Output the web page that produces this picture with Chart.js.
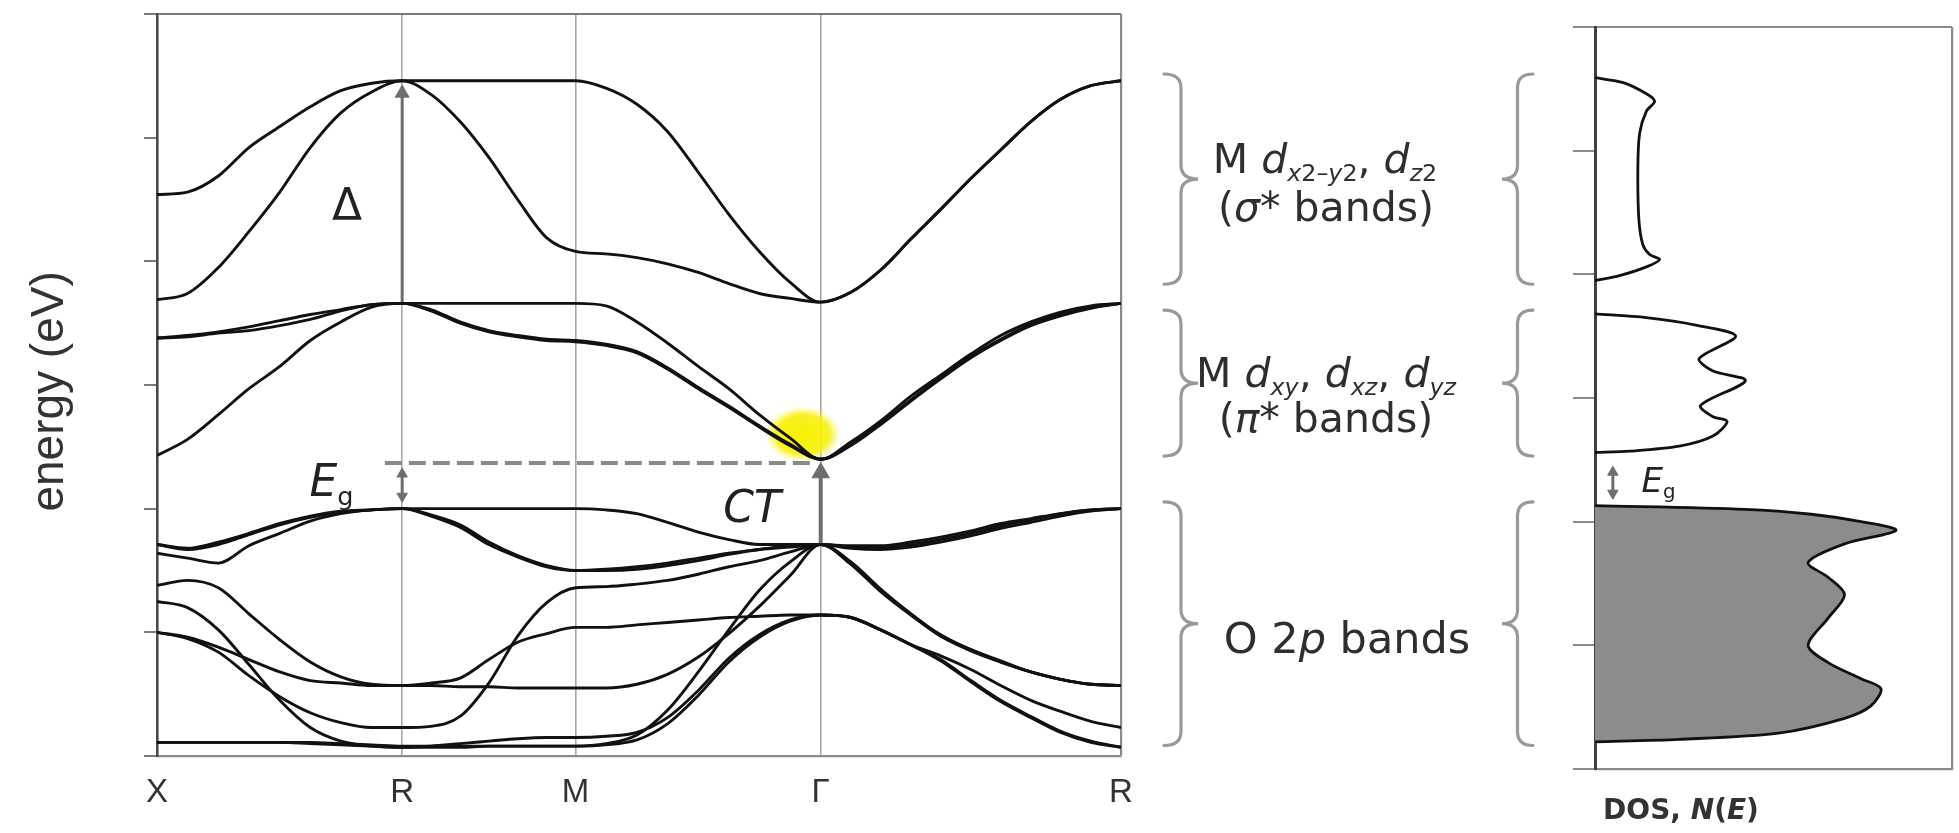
<!DOCTYPE html>
<html>
<head>
<meta charset="utf-8">
<title>Band structure and DOS of a cubic perovskite oxide</title>
<script src="https://cdn.jsdelivr.net/npm/chart.js@4.4.1/dist/chart.umd.min.js"></script>
<style>
  html, body { margin: 0; padding: 0; background: #fff; }
  #fig { position: relative; width: 1959px; height: 833px; overflow: hidden; background: #fff; }
  #fig canvas { position: absolute; top: 0; }
  #bands { left: 0; }
  #dos { left: 1121px; }
  .lbl { position: absolute; white-space: nowrap; color: #2a2a2a; line-height: 1;
         font-family: 'DejaVu Sans', sans-serif; transform: translate(-50%, -50%); }
  .lbl sub { font-size: 0.58em; vertical-align: baseline; position: relative; top: 0.34em; line-height: 0; }
  .grp { font-size: 41px; color: #2e2e2e; }
  .sym { font-size: 44px; color: #222; }
  .it { font-style: italic; }
  .doslbl { font-size: 28px; font-weight: bold; color: #333; }
</style>
</head>
<body>
<div id="fig">
  <canvas id="bands" width="1140" height="833"></canvas>
  <canvas id="dos" width="838" height="833"></canvas>

  <div class="lbl grp" style="left:1325px; top:159px;">M <i>d</i><sub><i>x</i>2–<i>y</i>2</sub>, <i>d</i><sub><i>z</i>2</sub></div>
  <div class="lbl grp" style="left:1326px; top:207px;">(<i>σ</i>* bands)</div>
  <div class="lbl grp" style="left:1326px; top:373px;">M <i>d<sub>xy</sub></i>, <i>d<sub>xz</sub></i>, <i>d<sub>yz</sub></i></div>
  <div class="lbl grp" style="left:1326px; top:418px;">(<i>π</i>* bands)</div>
  <div class="lbl grp" style="left:1347px; top:638px; font-size:43px;">O 2<i>p</i> bands</div>

  <div id="lblDelta" class="lbl sym">Δ</div>
  <div id="lblGap" class="lbl sym"><i>E</i><sub>g</sub></div>
  <div id="lblCT" class="lbl sym it">CT</div>
  <div id="lblDosGap" class="lbl sym" style="font-size:34px;"><i>E</i><sub>g</sub></div>
  <div class="lbl doslbl" style="left:1681px; top:810px;">DOS, <i>N</i>(<i>E</i>)</div>
</div>

<script>
// ---- path through the simple-cubic Brillouin zone (|k| in units of 2π/a) ----
const kTicks  = [0, 0.707, 1.207, 1.914, 2.780];
const kLabels = ['X', 'R', 'M', 'Γ', 'R'];
const kPath = [0, 0.088, 0.177, 0.265, 0.354, 0.442, 0.530, 0.619, 0.707,
               0.790, 0.874, 0.957, 1.040, 1.124, 1.207,
               1.295, 1.384, 1.472, 1.561, 1.649, 1.737, 1.826, 1.914,
               2.001, 2.087, 2.174, 2.260, 2.347, 2.433, 2.520, 2.606, 2.693, 2.780];

// ---- metal d (eg) sigma* bands, energy in eV ----
const sigmaA = [4.54, 4.56, 4.69, 4.92, 5.09, 5.25, 5.38, 5.44, 5.46,
                5.46, 5.46, 5.46, 5.46, 5.46, 5.46,
                5.40, 5.27, 5.05, 4.72, 4.38, 4.08, 3.83, 3.67,
                3.75, 3.93, 4.18, 4.42, 4.67, 4.90, 5.13, 5.31, 5.42, 5.46];
const sigmaB = [3.69, 3.74, 3.95, 4.24, 4.56, 4.92, 5.20, 5.37, 5.46,
                5.35, 5.13, 4.84, 4.50, 4.19, 4.08,
                4.06, 4.03, 3.98, 3.91, 3.82, 3.74, 3.70, 3.67,
                3.75, 3.93, 4.18, 4.42, 4.67, 4.90, 5.13, 5.31, 5.42, 5.46];

// ---- metal d (t2g) pi* bands ----
const pi1 = [3.38, 3.40, 3.43, 3.47, 3.52, 3.57, 3.61, 3.65, 3.66,
             3.66, 3.66, 3.66, 3.66, 3.66, 3.66,
             3.64, 3.51, 3.34, 3.15, 2.97, 2.76, 2.57, 2.40,
             2.54, 2.71, 2.91, 3.08, 3.25, 3.40, 3.51, 3.59, 3.64, 3.66];
const pi2 = [3.38, 3.39, 3.42, 3.44, 3.48, 3.53, 3.60, 3.65, 3.66,
             3.61, 3.51, 3.44, 3.40, 3.37, 3.36,
             3.33, 3.27, 3.14, 2.98, 2.83, 2.67, 2.52, 2.40,
             2.52, 2.69, 2.88, 3.06, 3.23, 3.37, 3.49, 3.57, 3.63, 3.66];
const pi3 = [2.43, 2.56, 2.76, 2.97, 3.15, 3.36, 3.51, 3.63, 3.66,
             3.60, 3.50, 3.43, 3.39, 3.36, 3.35,
             3.32, 3.26, 3.13, 2.97, 2.82, 2.66, 2.51, 2.40,
             2.51, 2.68, 2.87, 3.05, 3.22, 3.36, 3.48, 3.56, 3.62, 3.66];

// ---- oxygen 2p bands ----
const o2p1 = [1.71, 1.68, 1.73, 1.80, 1.88, 1.94, 1.98, 1.99, 2.00,
              2.00, 2.00, 2.00, 2.00, 2.00, 2.00,
              1.99, 1.96, 1.89, 1.81, 1.75, 1.71, 1.71, 1.71,
              1.70, 1.70, 1.73, 1.77, 1.82, 1.88, 1.92, 1.96, 1.99, 2.00];
const o2p2 = [1.71, 1.67, 1.71, 1.79, 1.87, 1.93, 1.97, 1.99, 2.00,
              1.95, 1.87, 1.73, 1.62, 1.54, 1.50,
              1.51, 1.53, 1.56, 1.60, 1.64, 1.67, 1.70, 1.71,
              1.68, 1.67, 1.69, 1.73, 1.78, 1.84, 1.89, 1.94, 1.98, 2.00];
const o2p3 = [1.64, 1.60, 1.56, 1.70, 1.80, 1.90, 1.96, 1.99, 2.00,
              1.94, 1.85, 1.71, 1.61, 1.53, 1.50,
              1.50, 1.51, 1.54, 1.58, 1.63, 1.67, 1.69, 1.71,
              1.69, 1.68, 1.71, 1.75, 1.80, 1.86, 1.91, 1.96, 1.99, 2.00];
const o2p4 = [1.38, 1.42, 1.36, 1.15, 0.94, 0.76, 0.64, 0.58, 0.57,
              0.59, 0.63, 0.78, 0.92, 0.99, 1.04,
              1.04, 1.06, 1.08, 1.10, 1.12, 1.13, 1.14, 1.14,
              1.12, 1.02, 0.90, 0.81, 0.70, 0.57, 0.45, 0.36, 0.28, 0.23];
const o2p5 = [1.00, 0.96, 0.88, 0.78, 0.68, 0.61, 0.59, 0.57, 0.57,
              0.57, 0.56, 0.56, 0.55, 0.55, 0.55,
              0.55, 0.58, 0.66, 0.80, 0.99, 1.21, 1.46, 1.71,
              1.56, 1.34, 1.15, 0.97, 0.86, 0.76, 0.68, 0.62, 0.58, 0.57];
const o2p6 = [1.00, 0.95, 0.84, 0.65, 0.48, 0.35, 0.27, 0.23, 0.23,
              0.24, 0.32, 0.59, 0.97, 1.24, 1.36,
              1.37, 1.39, 1.42, 1.47, 1.53, 1.58, 1.65, 1.71,
              1.55, 1.33, 1.14, 0.97, 0.85, 0.76, 0.68, 0.62, 0.58, 0.57];
const o2p7 = [1.25, 1.20, 1.02, 0.74, 0.45, 0.23, 0.12, 0.08, 0.07,
              0.08, 0.10, 0.12, 0.14, 0.15, 0.15,
              0.16, 0.19, 0.31, 0.53, 0.79, 0.98, 1.10, 1.14,
              1.12, 1.02, 0.90, 0.78, 0.61, 0.45, 0.32, 0.20, 0.12, 0.07];
const o2p8 = [0.11, 0.11, 0.11, 0.11, 0.11, 0.11, 0.10, 0.09, 0.08,
              0.08, 0.08, 0.08, 0.08, 0.08, 0.08,
              0.09, 0.13, 0.26, 0.49, 0.76, 0.96, 1.09, 1.14,
              1.12, 1.02, 0.90, 0.77, 0.60, 0.44, 0.31, 0.19, 0.11, 0.07];
const o2p9 = [0.11, 0.11, 0.11, 0.11, 0.11, 0.10, 0.09, 0.08, 0.07,
              0.07, 0.07, 0.08, 0.08, 0.08, 0.08,
              0.10, 0.17, 0.37, 0.68, 1.02, 1.34, 1.57, 1.71,
              1.57, 1.35, 1.15, 0.98, 0.86, 0.77, 0.68, 0.62, 0.58, 0.57];

// ---- characteristic energies (eV) ----
const cbLevel  = 2.37;   // conduction-band minimum level (dashed)
const o2pTopG  = 1.71;   // O 2p top at Γ
const piTopR   = 3.66;   // pi* maximum at R

// ---- density of states: energy (eV, DOS panel axis) and N(E) (arb. units) ----
const sigmaDosE = [5.59, 5.55, 5.46, 5.40, 5.32, 5.14, 4.85, 4.44, 4.24, 4.16, 4.12, 4.06, 3.99, 3.95];
const sigmaDosN = [0, 0.79, 1.44, 1.67, 1.44, 1.25, 1.20, 1.23, 1.34, 1.53, 1.81, 1.44, 0.69, 0];
const piDosE = [3.68, 3.65, 3.59, 3.50, 3.32, 3.22, 3.14, 2.94, 2.85, 2.81, 2.69, 2.61, 2.57, 2.56];
const piDosN = [0, 1.44, 2.82, 3.94, 2.92, 3.29, 4.21, 2.96, 3.29, 3.70, 3.29, 2.36, 0.97, 0];
const o2pDosE = [2.13, 2.10, 2.06, 2.00, 1.93, 1.82, 1.67, 1.55, 1.41, 1.22, 1.00, 0.86, 0.73, 0.65, 0.51, 0.41, 0.29, 0.24, 0.22];
const o2pDosN = [0, 4.21, 6.06, 7.45, 8.43, 6.99, 5.97, 6.53, 6.99, 6.53, 5.97, 6.53, 7.45, 8.01, 7.73, 6.99, 5.14, 2.36, 0];

Chart.defaults.font.family = "'DejaVu Sans', sans-serif";

const LINE = '#111';
const ARROW = '#6e6e6e';

const bandSets = [sigmaA, sigmaB, pi1, pi2, pi3, o2p1, o2p2, o2p3, o2p4, o2p5, o2p6, o2p7, o2p8, o2p9];
const bandDatasets = bandSets.map(b => ({
  data: b.map((e, i) => ({ x: kPath[i], y: e })),
  showLine: true, borderColor: LINE, borderWidth: 2.9,
  pointRadius: 0, cubicInterpolationMode: 'monotone', fill: false
}));

// arrow: straight shaft with triangular heads (rotation 0 = pointing up)
function arrow(points, heads, width, size) {
  return {
    data: points,
    showLine: true, borderColor: ARROW, borderWidth: width, tension: 0,
    pointStyle: 'triangle',
    pointRadius: heads.map(h => (h === null ? 0 : size)),
    pointRotation: heads.map(h => (h === null ? 0 : h)),
    pointBackgroundColor: ARROW, pointBorderColor: ARROW, pointBorderWidth: 1
  };
}

const overlays = [
  // dashed conduction-band minimum level
  { data: [{ x: 0.657, y: cbLevel }, { x: 1.889, y: cbLevel }], showLine: true,
    borderColor: '#8a8a8a', borderWidth: 4, borderDash: [17, 7], pointRadius: 0 },
  // crystal-field splitting at R
  arrow([{ x: 0.707, y: piTopR }, { x: 0.707, y: 5.36 }], [null, 0], 3, 8),
  // optical gap at R
  arrow([{ x: 0.707, y: 2.10 }, { x: 0.707, y: 2.28 }], [180, 0], 3, 6),
  // charge-transfer excitation at Γ
  arrow([{ x: 1.914, y: o2pTopG }, { x: 1.914, y: 2.29 }], [null, 0], 4, 10)
];

// soft yellow marker at the approach to the conduction-band minimum
const marker = {
  id: 'marker',
  beforeDatasetsDraw(chart) {
    const { ctx, scales: { x, y } } = chart;
    const cx = x.getPixelForValue(1.863), cy = y.getPixelForValue(2.60);
    ctx.save();
    ctx.translate(cx, cy);
    ctx.scale(1, 0.74);
    const g = ctx.createRadialGradient(0, 0, 0, 0, 0, 38);
    g.addColorStop(0, 'rgba(248,240,0,1)');
    g.addColorStop(0.7, 'rgba(248,240,10,0.9)');
    g.addColorStop(1, 'rgba(250,246,80,0)');
    ctx.fillStyle = g;
    ctx.beginPath(); ctx.arc(0, 0, 38, 0, Math.PI * 2); ctx.fill();
    ctx.restore();
  }
};

const bandChart = new Chart(document.getElementById('bands'), {
  type: 'scatter',
  data: { datasets: [...bandDatasets, ...overlays] },
  options: {
    responsive: false, animation: false, devicePixelRatio: 1,
    layout: { padding: { top: 14, right: 19, left: 0, bottom: 0 } },
    plugins: { legend: { display: false }, tooltip: { enabled: false } },
    scales: {
      x: {
        type: 'linear', min: kTicks[0], max: kTicks[kTicks.length - 1],
        afterBuildTicks: s => { s.ticks = kTicks.map(v => ({ value: v })); },
        afterFit: s => { s.height = 77; s.paddingLeft = 0; s.paddingRight = 0; },
        ticks: { callback: (v, i) => kLabels[i], autoSkip: false, maxRotation: 0,
                 color: '#333', padding: 17, font: { family: "'Liberation Sans', sans-serif", size: 33 } },
        grid: {
          drawTicks: false,
          color: c => c.index === 0 ? 'rgba(0,0,0,0)' : (c.index === kTicks.length - 1 ? '#8a8a8a' : '#a6a6a6'),
          lineWidth: c => c.index === kTicks.length - 1 ? 2.2 : 1.6
        },
        border: { color: '#8a8a8a', width: 2.2 }
      },
      y: {
        type: 'linear', min: 0, max: 6,
        ticks: { stepSize: 1, display: false },
        afterFit: s => { s.width = 157; s.paddingTop = 0; s.paddingBottom = 0; },
        grid: {
          drawTicks: true, tickLength: 13, tickColor: '#7a7a7a', tickWidth: 2,
          color: c => (c.tick && c.tick.value === 6) ? '#7a7a7a' : 'rgba(0,0,0,0)',
          lineWidth: 2
        },
        border: { color: '#4a4a4a', width: 2.6 },
        title: { display: true, text: 'energy (eV) ', color: '#333', padding: { top: 23 },
                 font: { family: "'Liberation Sans', sans-serif", size: 46 } }
      }
    }
  },
  plugins: [marker]
});

// ---- DOS panel ----
function dosLine(E, N, filled) {
  return {
    data: E.map((e, i) => ({ x: N[i], y: e })),
    showLine: true, borderColor: LINE, borderWidth: 2.8, pointRadius: 0, tension: 0.3,
    fill: filled ? 'shape' : false, backgroundColor: filled ? '#8c8c8c' : 'rgba(0,0,0,0)'
  };
}

const dosBlocks = [sigmaDosE, piDosE, o2pDosE];

function drawBrace(ctx, xEdge, xTip, yTop, yBot, yMid) {
  const xs = (xEdge + xTip) / 2, r = 14;
  ctx.beginPath();
  ctx.moveTo(xEdge, yTop);
  ctx.quadraticCurveTo(xs, yTop, xs, yTop + r);
  ctx.lineTo(xs, yMid - r);
  ctx.quadraticCurveTo(xs, yMid, xTip, yMid);
  ctx.quadraticCurveTo(xs, yMid, xs, yMid + r);
  ctx.lineTo(xs, yBot - r);
  ctx.quadraticCurveTo(xs, yBot, xEdge, yBot);
  ctx.stroke();
}

// curly braces grouping each band manifold (left of the labels and left of the DOS)
const braces = {
  id: 'braces',
  afterDraw(chart) {
    const { ctx, scales: { y }, chartArea } = chart;
    ctx.save();
    ctx.strokeStyle = '#999'; ctx.lineWidth = 3.2; ctx.lineCap = 'round';
    dosBlocks.forEach(E => {
      const top = y.getPixelForValue(Math.max(...E) + 0.03);
      const bot = y.getPixelForValue(Math.min(...E) - 0.03);
      const mid = (top + bot) / 2;
      drawBrace(ctx, 43, 77, top, bot, mid);
      drawBrace(ctx, chartArea.left - 62, chartArea.left - 93, top, bot, mid);
    });
    ctx.restore();
  }
};

const dosChart = new Chart(document.getElementById('dos'), {
  type: 'scatter',
  data: {
    datasets: [
      dosLine(o2pDosE, o2pDosN, true),
      dosLine(piDosE, piDosN, false),
      dosLine(sigmaDosE, sigmaDosN, false),
      arrow([{ x: 0.5, y: 2.23 }, { x: 0.5, y: 2.40 }], [180, 0], 3, 6)
    ]
  },
  options: {
    responsive: false, animation: false, devicePixelRatio: 1,
    layout: { padding: { top: 27, right: 4, left: 0, bottom: 0 } },
    plugins: { legend: { display: false }, tooltip: { enabled: false } },
    scales: {
      x: {
        type: 'linear', min: 0, max: 10,
        afterBuildTicks: s => { s.ticks = [{ value: 0 }, { value: 10 }]; },
        afterFit: s => { s.height = 64; s.paddingLeft = 0; s.paddingRight = 0; },
        ticks: { display: false },
        grid: { drawTicks: false, color: c => c.index === 1 ? '#8a8a8a' : 'rgba(0,0,0,0)', lineWidth: 2.2 },
        border: { color: '#8a8a8a', width: 2.2 }
      },
      y: {
        type: 'linear', min: 0, max: 6,
        ticks: { stepSize: 1, display: false },
        afterFit: s => { s.width = 474; s.paddingTop = 0; s.paddingBottom = 0; },
        grid: {
          drawTicks: true, tickLength: 22, tickColor: '#8a8a8a', tickWidth: 2,
          color: c => (c.tick && c.tick.value === 6) ? '#8a8a8a' : 'rgba(0,0,0,0)',
          lineWidth: 2
        },
        border: { color: '#404040', width: 3 }
      }
    }
  },
  plugins: [braces]
});

// place chart-anchored labels from data coordinates
function place(id, chart, xv, yv, offsetLeft) {
  const el = document.getElementById(id);
  el.style.left = (chart.scales.x.getPixelForValue(xv) + offsetLeft) + 'px';
  el.style.top = chart.scales.y.getPixelForValue(yv) + 'px';
}
place('lblDelta', bandChart, 0.548, 4.455, 0);
place('lblGap', bandChart, 0.503, 2.22, 0);
place('lblCT', bandChart, 1.716, 2.01, 0);
place('lblDosGap', dosChart, 1.78, 2.34, 1121);
</script>
</body>
</html>
